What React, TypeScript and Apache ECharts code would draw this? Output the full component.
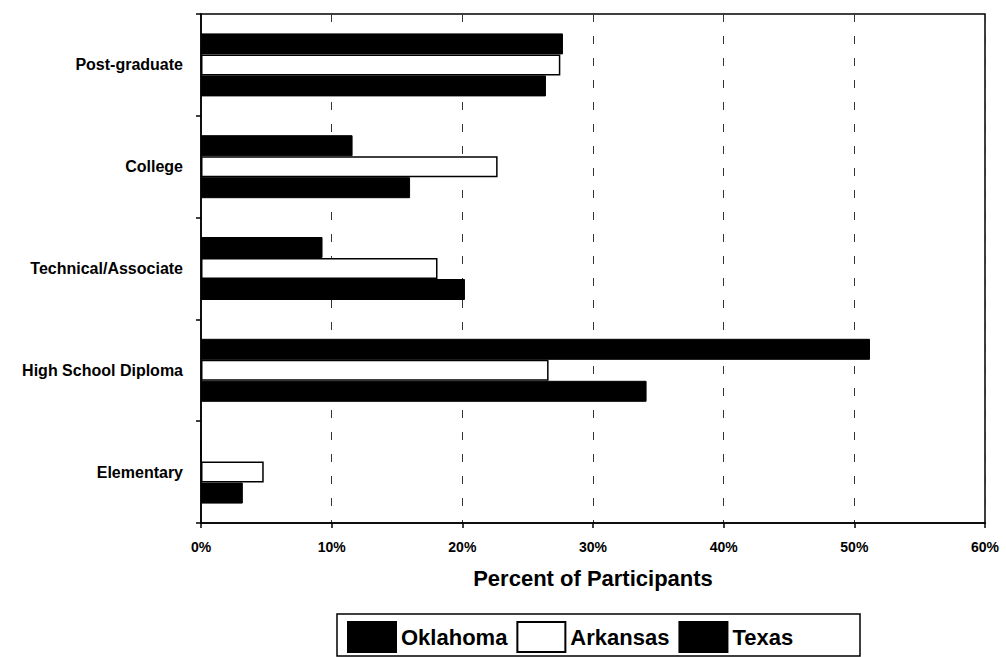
import React, { useEffect, useRef } from "react";
import * as echarts from "echarts";

// Education levels, listed top to bottom
const levels = [
  "Post-graduate",
  "College",
  "Technical/Associate",
  "High School Diploma",
  "Elementary",
];

// Percent of participants by state
const oklahoma = [27.7, 11.6, 9.3, 51.2, 0];
const arkansas = [27.5, 22.7, 18.1, 26.6, 4.8];
const texas = [26.4, 16.0, 20.2, 34.1, 3.2];

const xTicks = [0, 10, 20, 30, 40, 50, 60];

const FONT = "'Liberation Sans', Arial, Helvetica, sans-serif";

export default function App() {
  const ref = useRef<HTMLDivElement>(null);

  useEffect(() => {
    document.body.style.margin = "0";
    if (!ref.current) return;
    const chart = echarts.init(ref.current, undefined, { renderer: "svg" });

    const barBase = {
      type: "bar" as const,
      barWidth: 21,
      barGap: "0%",
    };

    chart.setOption({
      animation: false,
      backgroundColor: "#ffffff",
      textStyle: { fontFamily: FONT },
      grid: {
        left: 201,
        right: 21,
        top: 14,
        bottom: 134,
        show: true,
        borderColor: "#000",
        borderWidth: 1.5,
        backgroundColor: "transparent",
      },
      xAxis: {
        type: "value",
        min: xTicks[0],
        max: xTicks[xTicks.length - 1],
        interval: 10,
        name: "Percent of Participants",
        nameLocation: "middle",
        nameGap: 44,
        nameTextStyle: {
          color: "#000",
          fontSize: 22,
          fontWeight: "bold",
          fontFamily: FONT,
        },
        axisLine: { show: true, lineStyle: { color: "#000", width: 1.5 } },
        axisTick: { show: true, inside: false, length: 5, lineStyle: { color: "#000", width: 1.5 } },
        axisLabel: {
          formatter: "{value}%",
          color: "#000",
          fontSize: 14,
          fontWeight: "bold",
          fontFamily: FONT,
          margin: 17,
        },
        splitLine: {
          show: true,
          lineStyle: { color: "#333", width: 1, type: [8, 14] },
        },
      },
      yAxis: {
        type: "category",
        data: levels,
        inverse: true,
        axisLine: { show: true, lineStyle: { color: "#000", width: 1.5 } },
        axisTick: { show: true, inside: false, length: 5, lineStyle: { color: "#000", width: 1.5 } },
        axisLabel: {
          color: "#000",
          fontSize: 16,
          fontWeight: "bold",
          fontFamily: FONT,
          margin: 18,
        },
        splitLine: { show: false },
      },
      legend: {
        left: 347,
        top: 621,
        orient: "horizontal",
        itemWidth: 48,
        itemHeight: 30,
        itemGap: 9,
        padding: 0,
        icon: "rect",
        textStyle: {
          color: "#000",
          fontSize: 22,
          fontWeight: "bold",
          fontFamily: FONT,
        },
        data: ["Oklahoma", "Arkansas", "Texas"],
      },
      graphic: [
        {
          type: "rect",
          shape: { x: 337, y: 614, width: 523, height: 42 },
          style: { fill: "none", stroke: "#000", lineWidth: 1.5 },
          silent: true,
        },
      ],
      series: [
        {
          ...barBase,
          name: "Oklahoma",
          data: oklahoma,
          itemStyle: { color: "#000", borderColor: "#000", borderWidth: 1 },
        },
        {
          ...barBase,
          name: "Arkansas",
          data: arkansas,
          itemStyle: { color: "#fff", borderColor: "#000", borderWidth: 1.5 },
        },
        {
          ...barBase,
          name: "Texas",
          data: texas,
          itemStyle: { color: "#000", borderColor: "#000", borderWidth: 1 },
        },
      ],
    });

    return () => {
      chart.dispose();
    };
  }, []);

  return <div ref={ref} style={{ width: 1006, height: 657 }} />;
}
